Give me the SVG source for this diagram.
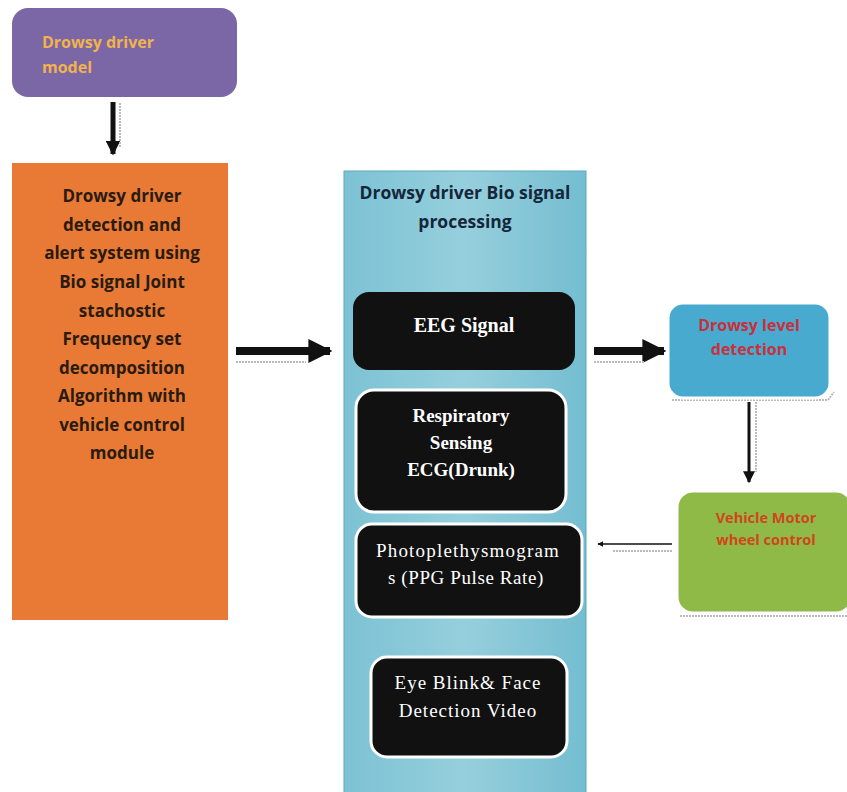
<svg xmlns="http://www.w3.org/2000/svg" width="847" height="792" viewBox="0 0 847 792">
<defs>
<linearGradient id="panel" x1="0" y1="0" x2="1" y2="0">
<stop offset="0" stop-color="#7cc2d4"/>
<stop offset="0.5" stop-color="#96cfdc"/>
<stop offset="1" stop-color="#74bdd1"/>
</linearGradient>
<marker id="hd" viewBox="0 0 10 10" refX="9" refY="5" markerWidth="3" markerHeight="3" orient="auto" markerUnits="strokeWidth">
<path d="M0,0 L10,5 L0,10 Z" fill="#111"/>
</marker>
<marker id="hs" viewBox="0 0 10 10" refX="9" refY="5" markerWidth="4" markerHeight="4" orient="auto" markerUnits="strokeWidth">
<path d="M0,0 L10,5 L0,10 Z" fill="#111"/>
</marker>
</defs>
<style>
.cal{font-family:"Open Sans","Liberation Sans",sans-serif;font-weight:bold;text-anchor:middle}
.ser{font-family:"Liberation Serif",serif;fill:#fff;text-anchor:middle}
.blk{fill:#111;stroke:#fff;stroke-width:3}
.sh{fill:none;stroke:#bbb;stroke-width:2;stroke-dasharray:2 1}
.conn{stroke:#111;fill:none}
</style>
<rect width="847" height="792" fill="#fff"/>

<g id="model">
<rect x="12" y="8" width="225" height="89" rx="16" fill="#7b67a5"/>
<text class="cal" x="42" y="48" font-size="16" fill="#f2b24c" style="text-anchor:start">Drowsy driver</text>
<text class="cal" x="42" y="73" font-size="16" fill="#f2b24c" style="text-anchor:start">model</text>
</g>

<g id="system">
<rect x="12" y="163" width="216" height="457" fill="#e87a35"/>
<g class="cal" font-size="17" fill="#2a1a10">
<text x="122" y="202">Drowsy driver</text>
<text x="122" y="231">detection and</text>
<text x="122" y="259">alert system using</text>
<text x="122" y="288">Bio signal Joint</text>
<text x="122" y="317">stachostic</text>
<text x="122" y="345">Frequency set</text>
<text x="122" y="374">decomposition</text>
<text x="122" y="402">Algorithm with</text>
<text x="122" y="431">vehicle control</text>
<text x="122" y="459">module</text>
</g>
</g>

<g id="panel">
<rect x="344" y="171" width="242" height="630" fill="url(#panel)" stroke="#5aa9bf" stroke-width="1"/>
<text class="cal" x="465" y="199" font-size="17.5" fill="#15263a">Drowsy driver Bio signal</text>
<text class="cal" x="465" y="228" font-size="17.5" fill="#15263a">processing</text>
</g>

<g id="eeg">
<rect x="353" y="292" width="222" height="78" rx="16" fill="#111"/>
<text class="ser" x="464" y="332" font-size="20" font-weight="bold">EEG Signal</text>
</g>

<g id="resp">
<rect x="356" y="390" width="210" height="122" rx="18" class="blk"/>
<text class="ser" x="461" y="422" font-size="19" font-weight="bold">Respiratory</text>
<text class="ser" x="461" y="449" font-size="19" font-weight="bold">Sensing</text>
<text class="ser" x="461" y="476" font-size="19" font-weight="bold">ECG(Drunk)</text>
</g>

<g id="ppg">
<rect x="356" y="524" width="226" height="93" rx="16" class="blk"/>
<text class="ser" x="468" y="557" font-size="19" letter-spacing="1.2">Photoplethysmogram</text>
<text class="ser" x="466" y="584" font-size="19" letter-spacing="0.6">s (PPG Pulse Rate)</text>
</g>

<g id="eye">
<rect x="371" y="657" width="196" height="100" rx="16" class="blk"/>
<text class="ser" x="468" y="689" font-size="19" letter-spacing="1">Eye Blink&amp; Face</text>
<text class="ser" x="468" y="717" font-size="19" letter-spacing="1">Detection Video</text>
</g>

<g id="level">
<path class="sh" d="M672,400 L828,400 L834,392"/>
<rect x="668" y="303" width="162" height="95" rx="15" fill="#48aace" stroke="#fff" stroke-width="3"/>
<text class="cal" x="749" y="331" font-size="16" fill="#c8303e" font-weight="normal">Drowsy level</text>
<text class="cal" x="749" y="355" font-size="16" fill="#c8303e" font-weight="normal">detection</text>
</g>

<g id="vehicle">
<path class="sh" d="M680,616 L847,616"/>
<rect x="677" y="491" width="175" height="122" rx="16" fill="#8fba48" stroke="#fff" stroke-width="3"/>
<text class="cal" x="766" y="523" font-size="14.5" fill="#d0461c">Vehicle Motor</text>
<text class="cal" x="766" y="545" font-size="14.5" fill="#d0461c">wheel control</text>
</g>

<g id="connectors">
<line class="conn" x1="113" y1="102" x2="113" y2="154" stroke-width="5" marker-end="url(#hd)"/>
<line class="sh" x1="120" y1="103" x2="120" y2="148"/>
<line class="conn" x1="236" y1="351" x2="330" y2="351" stroke-width="8" marker-end="url(#hd)"/>
<line class="sh" x1="236" y1="362" x2="306" y2="362"/>
<line class="conn" x1="594" y1="351" x2="664" y2="351" stroke-width="8" marker-end="url(#hd)"/>
<line class="sh" x1="594" y1="362" x2="644" y2="362"/>
<line class="conn" x1="749" y1="402" x2="749" y2="482" stroke-width="3" marker-end="url(#hs)"/>
<line class="sh" x1="756" y1="402" x2="756" y2="472"/>
<line class="conn" x1="672" y1="544" x2="598" y2="544" stroke-width="1.5" marker-end="url(#hs)"/>
<line class="sh" x1="672" y1="551" x2="612" y2="551"/>
</g>
</svg>
